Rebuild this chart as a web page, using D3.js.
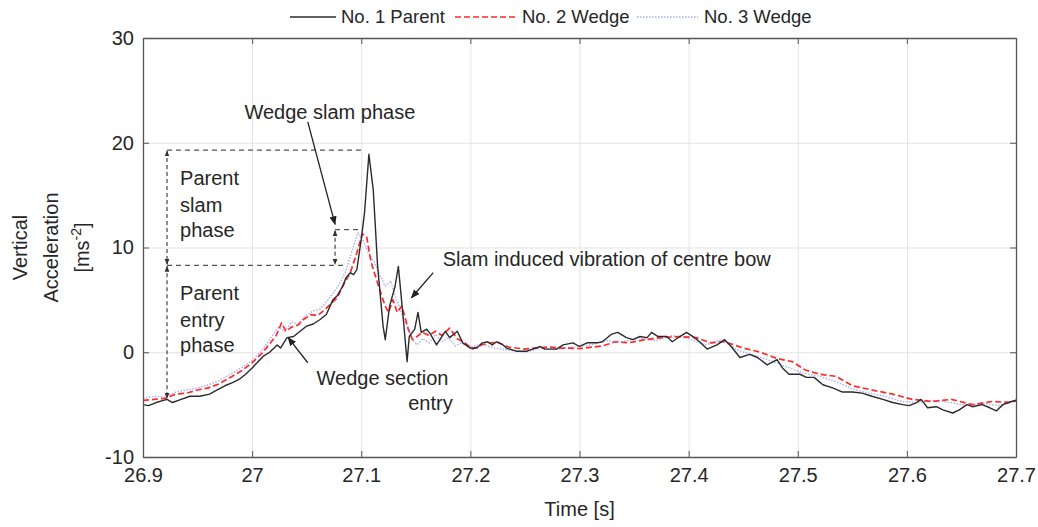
<!DOCTYPE html>
<html>
<head>
<meta charset="utf-8">
<script src="https://cdn.jsdelivr.net/npm/d3@7"></script>
<style>
  body { margin: 0; background: #fff; }
  text { font-family: "Liberation Sans", Arial, sans-serif; fill: #262626; }
</style>
</head>
<body>
<div id="chart"></div>
<script>
(function(){

  let margin = { top: 38, left: 143, right: 22, bottom: 70 }

  let width = 1038 - margin.left - margin.right
  let height = 527 - margin.top - margin.bottom

// Data

  let xTicks = [26.9, 27, 27.1, 27.2, 27.3, 27.4, 27.5, 27.6, 27.7]
  let yTicks = [-10, 0, 10, 20, 30]

  let parent = [
    [26.900,-5.0],[26.905,-5.1],[26.912,-4.8],[26.922,-4.5],[26.927,-4.8],[26.935,-4.5],[26.943,-4.2],
    [26.952,-4.2],[26.961,-4.0],[26.968,-3.6],[26.975,-3.2],[26.982,-2.9],[26.988,-2.6],[26.994,-2.1],
    [27.000,-1.5],[27.010,-0.4],[27.016,0.0],[27.023,0.7],[27.026,0.4],[27.032,1.4],[27.038,1.5],
    [27.044,2.0],[27.050,2.5],[27.056,2.7],[27.062,3.1],[27.068,3.6],[27.074,5.0],[27.078,5.4],
    [27.083,6.3],[27.086,7.1],[27.090,7.6],[27.093,7.4],[27.096,7.9],[27.100,10.8],[27.103,13.3],
    [27.107,18.9],[27.111,15.5],[27.115,8.2],[27.120,2.5],[27.122,1.2],[27.126,4.4],[27.131,6.3],
    [27.134,8.2],[27.138,3.8],[27.142,-0.9],[27.144,1.5],[27.149,2.2],[27.152,3.8],[27.155,1.9],
    [27.160,2.2],[27.163,1.8],[27.169,0.7],[27.177,2.0],[27.181,1.4],[27.188,2.0],[27.193,0.9],
    [27.200,0.4],[27.206,0.4],[27.211,0.9],[27.216,1.0],[27.220,0.7],[27.224,1.0],[27.230,0.7],
    [27.233,0.4],[27.242,0.1],[27.252,0.1],[27.257,0.3],[27.264,0.55],[27.268,0.3],[27.279,0.3],
    [27.285,0.7],[27.294,0.9],[27.300,0.55],[27.307,0.9],[27.316,0.9],[27.321,1.0],[27.329,1.7],
    [27.335,1.9],[27.343,1.4],[27.349,1.2],[27.355,1.5],[27.362,1.4],[27.366,1.9],[27.372,1.5],
    [27.380,1.5],[27.385,1.0],[27.392,1.5],[27.398,1.9],[27.404,1.5],[27.410,1.0],[27.417,0.3],
    [27.426,0.7],[27.433,1.2],[27.439,0.55],[27.447,-0.5],[27.456,-0.2],[27.463,-0.5],[27.472,-1.2],
    [27.481,-0.7],[27.486,-1.5],[27.492,-2.1],[27.502,-2.1],[27.508,-2.4],[27.515,-2.4],[27.523,-3.1],
    [27.532,-3.4],[27.541,-3.8],[27.550,-3.8],[27.559,-3.9],[27.568,-4.2],[27.578,-4.5],[27.587,-4.8],
    [27.596,-5.0],[27.602,-5.1],[27.609,-4.8],[27.613,-4.5],[27.619,-5.3],[27.627,-5.2],[27.633,-5.5],
    [27.642,-5.8],[27.648,-5.5],[27.655,-5.0],[27.660,-5.2],[27.669,-5.0],[27.676,-5.3],[27.682,-5.6],
    [27.688,-5.0],[27.696,-4.7],[27.700,-4.6]
  ]

  let wedge2 = [
    [26.900,-4.6],[26.910,-4.5],[26.920,-4.4],[26.930,-4.0],[26.940,-3.9],[26.950,-3.6],[26.960,-3.4],
    [26.970,-3.0],[26.980,-2.4],[26.990,-1.8],[27.000,-1.0],[27.010,0.0],[27.016,0.8],[27.022,1.6],
    [27.027,2.8],[27.031,2.0],[27.036,2.4],[27.042,2.6],[27.048,3.2],[27.054,3.6],[27.060,3.5],
    [27.066,4.0],[27.072,4.6],[27.078,5.2],[27.083,6.3],[27.090,7.6],[27.096,9.5],[27.101,11.3],
    [27.105,11.0],[27.109,8.6],[27.112,7.6],[27.115,6.6],[27.119,5.3],[27.122,4.4],[27.125,3.8],
    [27.129,5.0],[27.133,3.8],[27.137,4.4],[27.140,3.4],[27.143,2.2],[27.147,1.2],[27.151,1.5],
    [27.156,1.9],[27.162,1.6],[27.168,2.0],[27.174,1.6],[27.181,2.3],[27.188,1.3],[27.195,0.9],
    [27.202,0.3],[27.210,0.7],[27.224,1.0],[27.235,0.5],[27.250,0.3],[27.270,0.5],[27.285,0.4],
    [27.300,0.35],[27.321,0.6],[27.333,1.0],[27.345,0.9],[27.360,1.2],[27.375,1.4],[27.392,1.5],
    [27.407,1.4],[27.420,0.9],[27.433,1.0],[27.450,0.4],[27.466,0.0],[27.481,-0.6],[27.495,-0.9],
    [27.507,-1.7],[27.520,-2.1],[27.535,-2.3],[27.550,-3.2],[27.568,-3.6],[27.587,-4.0],[27.605,-4.5],
    [27.623,-4.7],[27.641,-4.5],[27.660,-5.0],[27.678,-4.7],[27.696,-4.8],[27.700,-4.6]
  ]

  let wedge3 = [
    [26.900,-4.4],[26.910,-4.2],[26.920,-4.3],[26.930,-3.8],[26.940,-3.6],[26.950,-3.4],[26.960,-3.1],
    [26.970,-2.7],[26.980,-2.1],[26.990,-1.5],[27.000,-0.8],[27.010,0.3],[27.018,1.5],[27.024,2.4],
    [27.030,2.0],[27.036,2.9],[27.042,2.7],[27.048,3.4],[27.055,3.9],[27.062,4.1],[27.068,4.8],
    [27.074,5.6],[27.080,6.5],[27.086,7.8],[27.092,9.8],[27.097,11.4],[27.102,10.6],[27.107,9.4],
    [27.112,8.6],[27.117,7.4],[27.122,6.3],[27.127,6.8],[27.131,5.4],[27.135,4.3],[27.139,3.1],
    [27.143,2.4],[27.147,1.2],[27.151,0.7],[27.156,1.3],[27.162,0.9],[27.168,1.7],[27.174,1.0],
    [27.180,1.4],[27.186,0.6],[27.192,0.9],[27.200,0.5],[27.210,0.8],[27.222,0.4],[27.235,0.2],
    [27.250,0.0],[27.265,0.4],[27.280,0.3],[27.295,0.5],[27.310,0.7],[27.325,1.1],[27.340,1.0],
    [27.355,1.4],[27.370,1.1],[27.385,1.6],[27.400,1.3],[27.415,0.7],[27.430,1.2],[27.445,0.2],
    [27.460,-0.3],[27.475,-0.8],[27.490,-1.4],[27.505,-2.0],[27.520,-2.3],[27.535,-2.8],[27.550,-3.5],
    [27.565,-3.9],[27.580,-4.2],[27.595,-4.7],[27.610,-4.8],[27.625,-4.6],[27.640,-4.8],[27.655,-5.1],
    [27.670,-4.9],[27.685,-5.1],[27.700,-4.5]
  ]

  let seriesNames = ['No. 1 Parent', 'No. 2 Wedge', 'No. 3 Wedge']

  // dashed guide lines [t1, v1, t2, v2]
  let guides = [
    [26.922, 19.3, 27.100, 19.3],
    [26.922, 8.3, 27.087, 8.3],
    [27.076, 11.7, 27.097, 11.7]
  ]
  // dashed double arrows [t, vTop, vBottom]
  let spans = [
    [26.922, 19.3, 8.3],
    [26.922, 8.3, -4.5],
    [27.076, 11.7, 8.3]
  ]
  // solid pointer arrows [tFrom, vFrom, tTo, vTo]
  let pointers = [
    [27.051, 22.0, 27.076, 12.2],
    [27.166, 7.6, 27.146, 5.2],
    [27.051, -1.0, 27.033, 1.4]
  ]
  // labels [t, v, text]
  let labels = [
    [26.993, 22.3, 'Wedge slam phase'],
    [26.934, 16.0, 'Parent'],
    [26.934, 13.4, 'slam'],
    [26.934, 11.0, 'phase'],
    [26.934, 5.0, 'Parent'],
    [26.934, 2.45, 'entry'],
    [26.934, 0.05, 'phase'],
    [27.1747, 8.2, 'Slam induced vibration of centre bow'],
    [27.059, -3.1, 'Wedge section'],
    [27.143, -5.5, 'entry']
  ]

// SVG

  let svg = d3.select('#chart')
    .append('svg')
    .attr('width', 1038)
    .attr('height', 527)

  let defs = svg.append('defs')
  defs.append('clipPath').attr('id', 'clip')
    .append('rect').attr('width', width).attr('height', height)

  defs.append('marker')
    .attr('id', 'head')
    .attr('viewBox', '0 0 10 10')
    .attr('refX', 9).attr('refY', 5)
    .attr('markerWidth', 9).attr('markerHeight', 9)
    .attr('markerUnits', 'userSpaceOnUse')
    .attr('orient', 'auto-start-reverse')
    .append('path').attr('d', 'M0,1 L10,5 L0,9 Z').attr('fill', '#222')

  defs.append('marker')
    .attr('id', 'small')
    .attr('viewBox', '0 0 10 10')
    .attr('refX', 9).attr('refY', 5)
    .attr('markerWidth', 6).attr('markerHeight', 6)
    .attr('markerUnits', 'userSpaceOnUse')
    .attr('orient', 'auto-start-reverse')
    .append('path').attr('d', 'M0,1 L10,5 L0,9 Z').attr('fill', '#333')

  let g = svg.append('g')
    .attr('transform', 'translate(' + margin.left + ',' + margin.top + ')')

// Scales

  let xPositionScale = d3.scaleLinear().domain([26.9, 27.7]).range([0, width])
  let yPositionScale = d3.scaleLinear().domain([-10, 30]).range([height, 0])
  let colorScale = d3.scaleOrdinal().domain(seriesNames).range(['#2b2b2b', '#ff2a2a', '#a9adf5'])
  let dashScale = d3.scaleOrdinal().domain(seriesNames).range(['none', '6,3', '1.5,1.5'])
  let widthScale = d3.scaleOrdinal().domain(seriesNames).range([1.4, 1.7, 1.4])

// Grid

  g.append('g')
    .attr('class', 'grid')
    .attr('transform', 'translate(0,' + height + ')')
    .call(d3.axisBottom(xPositionScale).tickValues(xTicks).tickSize(-height).tickFormat(''))
  g.append('g')
    .attr('class', 'grid')
    .call(d3.axisLeft(yPositionScale).tickValues(yTicks).tickSize(-width).tickFormat(''))
  g.selectAll('.grid .domain').remove()
  g.selectAll('.grid line').attr('stroke', '#e3e3e3').attr('stroke-width', 1)

// Lines

  let line = d3.line()
    .x(function(d){ return xPositionScale(d[0]) })
    .y(function(d){ return yPositionScale(d[1]) })

  let series = [
    { name: seriesNames[0], values: parent },
    { name: seriesNames[1], values: wedge2 },
    { name: seriesNames[2], values: wedge3 }
  ]

  g.append('g')
    .attr('clip-path', 'url(#clip)')
    .selectAll('path')
    .data([series[2], series[1], series[0]])
    .enter().append('path')
    .attr('d', function(d){ return line(d.values) })
    .attr('fill', 'none')
    .attr('stroke', function(d){ return colorScale(d.name) })
    .attr('stroke-width', function(d){ return widthScale(d.name) })
    .attr('stroke-dasharray', function(d){ return dashScale(d.name) })
    .attr('stroke-linejoin', 'round')

// Axes (MATLAB-style box with inward ticks)

  let tickText = function(d){ return String(d) }

  let xAxis = d3.axisBottom(xPositionScale).tickValues(xTicks).tickSizeInner(-6).tickSizeOuter(0).tickPadding(11)
    .tickFormat(tickText)
  g.append('g')
    .attr('class', 'axis')
    .attr('transform', 'translate(0,' + height + ')')
    .call(xAxis)

  let yAxis = d3.axisLeft(yPositionScale).tickValues(yTicks).tickSizeInner(-6).tickSizeOuter(0).tickPadding(9)
    .tickFormat(tickText)
  g.append('g')
    .attr('class', 'axis')
    .call(yAxis)

  g.append('g')
    .attr('class', 'axis')
    .call(d3.axisTop(xPositionScale).tickValues(xTicks).tickSizeInner(-6).tickSizeOuter(0).tickFormat(''))
  g.append('g')
    .attr('class', 'axis')
    .attr('transform', 'translate(' + width + ',0)')
    .call(d3.axisRight(yPositionScale).tickValues(yTicks).tickSizeInner(-6).tickSizeOuter(0).tickFormat(''))

  g.selectAll('.axis .domain').attr('stroke', '#555').attr('stroke-width', 1.3)
  g.selectAll('.axis line').attr('stroke', '#555').attr('stroke-width', 1)
  g.selectAll('.axis text')
    .style('font-size', '20px')
    .attr('fill', '#262626')

  g.append('text')
    .attr('x', width / 2)
    .attr('y', height + 59)
    .attr('text-anchor', 'middle')
    .style('font-size', '20px')
    .text('Time [s]')

  let yLabel = g.append('text')
    .attr('transform', 'translate(-116,' + (yPositionScale(10)) + ') rotate(-90)')
    .attr('text-anchor', 'middle')
    .style('font-size', '20px')
  yLabel.append('tspan').attr('x', 0).attr('dy', 0).text('Vertical')
  yLabel.append('tspan').attr('x', 0).attr('dy', 31).text('Acceleration')
  yLabel.append('tspan').attr('x', 0).attr('dy', 31).text('[ms')
  yLabel.append('tspan').attr('dy', -8).style('font-size', '14px').text('-2')
  yLabel.append('tspan').attr('dy', 8).text(']')

// Annotations

  g.selectAll('.guide')
    .data(guides)
    .enter().append('line')
    .attr('class', 'guide')
    .attr('x1', function(d){ return xPositionScale(d[0]) })
    .attr('y1', function(d){ return yPositionScale(d[1]) })
    .attr('x2', function(d){ return xPositionScale(d[2]) })
    .attr('y2', function(d){ return yPositionScale(d[3]) })
    .attr('stroke', '#555')
    .attr('stroke-width', 1.3)
    .attr('stroke-dasharray', '5,4')

  g.selectAll('.span')
    .data(spans)
    .enter().append('line')
    .attr('class', 'span')
    .attr('x1', function(d){ return xPositionScale(d[0]) })
    .attr('y1', function(d){ return yPositionScale(d[1]) + 1 })
    .attr('x2', function(d){ return xPositionScale(d[0]) })
    .attr('y2', function(d){ return yPositionScale(d[2]) - 1 })
    .attr('stroke', '#444')
    .attr('stroke-width', 1.2)
    .attr('stroke-dasharray', '4,3')
    .attr('marker-start', 'url(#small)')
    .attr('marker-end', 'url(#small)')

  g.selectAll('.pointer')
    .data(pointers)
    .enter().append('line')
    .attr('class', 'pointer')
    .attr('x1', function(d){ return xPositionScale(d[0]) })
    .attr('y1', function(d){ return yPositionScale(d[1]) })
    .attr('x2', function(d){ return xPositionScale(d[2]) })
    .attr('y2', function(d){ return yPositionScale(d[3]) })
    .attr('stroke', '#222')
    .attr('stroke-width', 1.3)
    .attr('marker-end', 'url(#head)')

  g.selectAll('.label')
    .data(labels)
    .enter().append('text')
    .attr('class', 'label')
    .attr('x', function(d){ return xPositionScale(d[0]) })
    .attr('y', function(d){ return yPositionScale(d[1]) })
    .style('font-size', '20px')
    .text(function(d){ return d[2] })

// Legend

  let legendX = [290, 455, 637]
  let legend = svg.append('g')
    .selectAll('g')
    .data(seriesNames)
    .enter().append('g')
    .attr('transform', function(d, i){ return 'translate(' + legendX[i] + ',17)' })

  legend.append('line')
    .attr('x1', 0).attr('x2', function(d, i){ return i === 0 ? 46 : 61 })
    .attr('y1', 0).attr('y2', 0)
    .attr('stroke', function(d){ return colorScale(d) })
    .attr('stroke-width', function(d){ return widthScale(d) })
    .attr('stroke-dasharray', function(d){ return dashScale(d) })

  legend.append('text')
    .attr('x', function(d, i){ return i === 0 ? 51 : 67 })
    .attr('y', 6)
    .style('font-size', '18.5px')
    .text(function(d){ return d })

})()
</script>
</body>
</html>
